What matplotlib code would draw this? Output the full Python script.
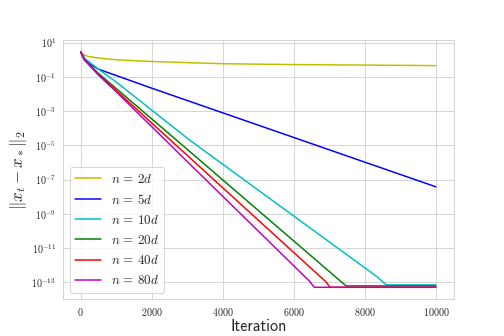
import numpy as np
import matplotlib
matplotlib.use('Agg')
import matplotlib.pyplot as plt
import seaborn as sns
from matplotlib.ticker import NullLocator

sns.set_style('whitegrid')
plt.rcParams['mathtext.fontset'] = 'cm'
plt.rcParams['font.family'] = ['serif']
plt.rcParams['font.serif'] = ['cmr10', 'DejaVu Serif']
plt.rcParams['axes.formatter.use_mathtext'] = True

# values: iteration -> log10 of the error
it_2d = [0, 80, 200, 500, 1000, 2000, 4000, 6000, 8000, 10000]
log_2d = [0.45, 0.3, 0.2, 0.1, 0.0, -0.1, -0.23, -0.28, -0.31, -0.34]

it_5d = [0, 100, 250, 500, 1000, 2000, 10000]
log_5d = [0.45, 0.1, -0.25, -0.55, -0.92, -1.66, -7.42]

it_10d = [0, 100, 500, 1000, 3059, 8360, 8600, 10000]
log_10d = [0.45, 0.1, -0.55, -1.3, -4.68, -12.7, -13.15, -13.15]

it_20d = [0, 100, 500, 1000, 2779, 7380, 7475, 10000]
log_20d = [0.45, 0.0, -0.8, -1.68, -4.84, -13.05, -13.21, -13.21]

it_40d = [0, 100, 500, 1000, 2779, 6920, 7011, 10000]
log_40d = [0.45, 0.0, -0.85, -1.8, -5.17, -13.0, -13.29, -13.29]

it_80d = [0, 100, 500, 1000, 2779, 6450, 6573, 10000]
log_80d = [0.45, 0.0, -0.9, -1.87, -5.5, -12.95, -13.29, -13.29]

series = [
    (it_2d, log_2d, 'y', r'$n\,=\,2d$'),
    (it_5d, log_5d, 'b', r'$n\,=\,5d$'),
    (it_10d, log_10d, 'c', r'$n\,=\,10d$'),
    (it_20d, log_20d, 'g', r'$n\,=\,20d$'),
    (it_40d, log_40d, 'r', r'$n\,=\,40d$'),
    (it_80d, log_80d, 'm', r'$n\,=\,80d$'),
]

fig, ax = plt.subplots(figsize=(7, 4.6667), dpi=72)
for its, logs, col, lab in series:
    ax.semilogy(its, 10.0 ** np.array(logs), color=col, lw=1.5, label=lab)

ax.set_yticks(10.0 ** np.arange(-13, 2, 2))
ax.yaxis.set_minor_locator(NullLocator())
ax.tick_params(labelsize=10)
ax.set_xlabel('Iteration', fontsize=16, family='cmss10', labelpad=1)
ax.set_ylabel(r'$\|x_t - x_*\|_2$', fontsize=17, labelpad=2)
ax.legend(loc='lower left', fontsize=13, labelspacing=0.55)

fig.savefig('out.png', dpi=72)
